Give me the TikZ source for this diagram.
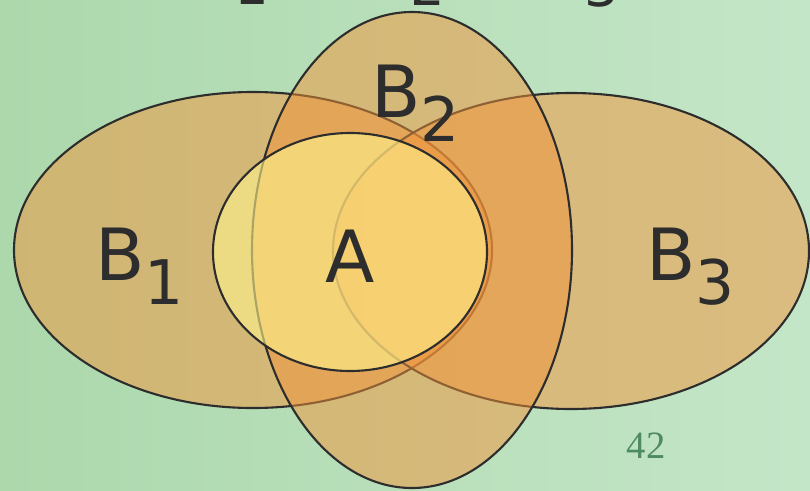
\documentclass[tikz,border=0pt]{standalone}
\usepackage{fontspec}
\setmainfont{DejaVu Sans}
\newfontfamily\pagenumfont{Liberation Serif}
\definecolor{bgleft}{RGB}{172,216,172}
\definecolor{bgright}{RGB}{196,230,200}
\definecolor{setfill}{RGB}{242,148,58}
\definecolor{afill}{RGB}{255,244,140}
\definecolor{edge}{RGB}{45,45,45}
\definecolor{numgreen}{RGB}{78,138,100}
\newcommand{\setlbl}[2]{#1\raisebox{-13.7pt}{\fontsize{35}{35}\selectfont #2}}
\tikzset{
  bset/.style={fill=setfill,fill opacity=0.5,draw=edge,draw opacity=1,line width=1.2pt},
  aset/.style={fill=afill,fill opacity=0.6,draw=edge,draw opacity=1,line width=1.2pt},
  lbl/.style={inner sep=0pt,text=edge,font=\fontsize{41}{41}\selectfont},
  topfrag/.style={inner sep=0pt,text=edge,font=\fontsize{31}{31}\selectfont}
}
\begin{document}
\begin{tikzpicture}
	\useasboundingbox (0,0) rectangle (16.2,9.8);
	\clip (0,0) rectangle (16.2,9.8);
	\fill[left color=bgleft,right color=bgright] (0,0) rectangle (16.2,9.8);
	% cut-off title line
	\node[topfrag,anchor=base] (t1) at (5.03,9.72) {1};
	\node[topfrag,anchor=base] (t2) at (8.56,9.7) {2};
	\node[topfrag,anchor=base] (t3) at (12.04,9.68) {3};
	% the sets
	\draw[bset] (5.06,4.8) ellipse (4.78 and 3.16);
	\draw[bset] (11.42,4.78) ellipse (4.76 and 3.16);
	\draw[bset] (8.24,4.8) ellipse (3.2 and 4.76);
	\draw[aset] (7.0,4.76) ellipse (2.74 and 2.38);
	% labels
	\node[lbl,anchor=base west] (lb1) at (1.9,4.2) {\setlbl{B}{1}};
	\node[lbl,anchor=base west] (lb2) at (7.42,7.46) {\setlbl{B}{2}};
	\node[lbl,anchor=base west] (lb3) at (12.92,4.2) {\setlbl{B}{3}};
	\node[lbl,anchor=base] (la) at (7.0,4.16) {A};
	\node[inner sep=0pt,anchor=base,text=numgreen,font=\pagenumfont\fontsize{22}{22}\selectfont] (pg) at (12.92,0.64) {42};
\end{tikzpicture}
\end{document}
